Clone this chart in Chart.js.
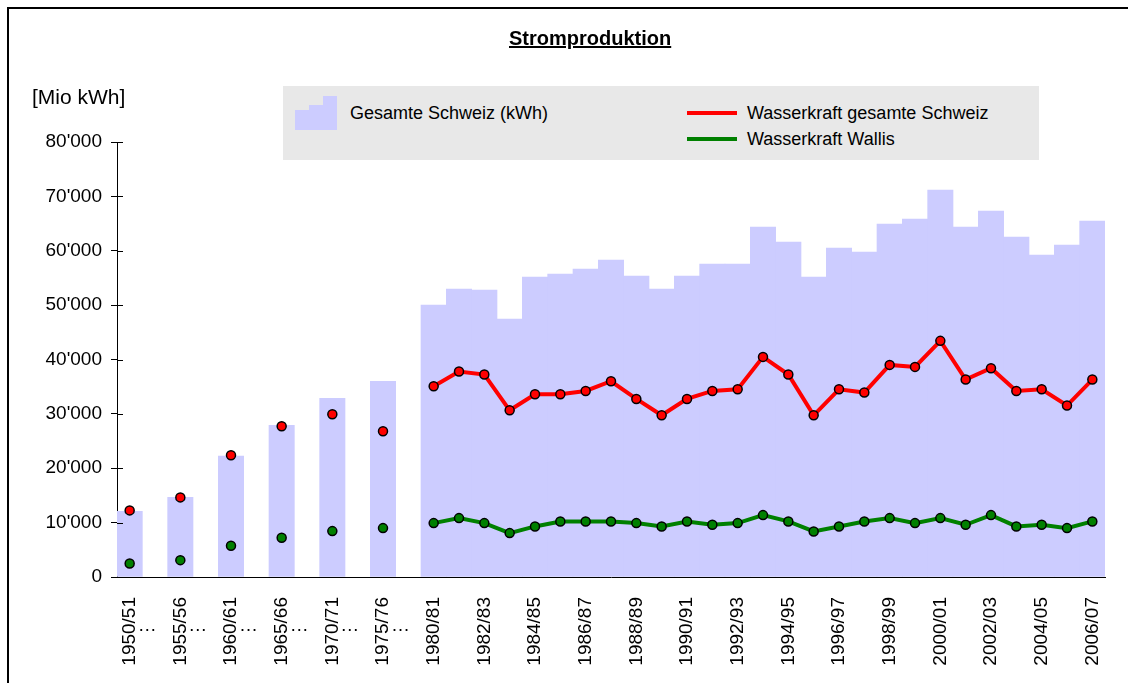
<!DOCTYPE html>
<html>
<head>
<meta charset="utf-8">
<script src="https://cdn.jsdelivr.net/npm/chart.js@4.4.1/dist/chart.umd.min.js"></script>
<style>
  body{ margin:0; background:#fff; font-family:"Liberation Sans", Arial, sans-serif; }
  #wrap{ position:relative; width:1128px; height:683px; overflow:hidden; }
  #frame{ position:absolute; left:7px; top:7px; width:1200px; height:800px; border:2px solid #000; }
  #title{ position:absolute; left:509px; top:27px; font-size:20px; font-weight:bold; text-decoration:underline; }
  #unit{ position:absolute; left:32px; top:85px; font-size:21px; }
  #legend{ position:absolute; left:283px; top:86px; width:756px; height:74px; background:#e8e8e8; }
  .item{ position:absolute; font-size:18px; line-height:20px; }
  .swatch{ position:absolute; height:4px; width:50px; }
  canvas{ position:absolute; left:0; top:0; }
</style>
</head>
<body>
<div id="wrap">
  <div id="frame"></div>
  <canvas id="chart" width="1128" height="683"></canvas>
  <div id="title">Stromproduktion</div>
  <div id="unit">[Mio kWh]</div>
  <div id="legend"></div>
</div>
<script>
// ===============================
// DATA (Mio kWh)
// ===============================
// leere Felder = Luecke zwischen den 5-Jahres-Werten
const periods = [
  "1950/51…","","1955/56…","","1960/61…","","1965/66…","","1970/71…","","1975/76…","",
  "1980/81","1981/82","1982/83","1983/84","1984/85","1985/86","1986/87","1987/88","1988/89",
  "1989/90","1990/91","1991/92","1992/93","1993/94","1994/95","1995/96","1996/97","1997/98",
  "1998/99","1999/00","2000/01","2001/02","2002/03","2003/04","2004/05","2005/06","2006/07"
];

const gesamtSchweiz = [
  12060,null,14640,null,22250,null,27900,null,32870,null,36000,null,
  50000,52950,52760,47420,55160,55710,56630,58290,55340,
  52950,55340,57550,57550,64360,61600,55160,60500,59760,
  64920,65840,71180,64360,67310,62520,59210,61050,65470
];

const wasserSchweiz = [
  12250,null,14640,null,22380,null,27720,null,29930,null,26800,null,
  35080,37790,37240,30660,33610,33610,34220,36000,32750,
  29740,32750,34220,34530,40480,37240,29740,34530,33920,
  39010,38640,43430,36310,38400,34220,34530,31530,36310
];

const wasserWallis = [
  2490,null,3100,null,5740,null,7210,null,8440,null,8990,null,
  9910,10830,9910,8070,9300,10220,10220,10220,9910,
  9300,10220,9610,9910,11380,10220,8380,9300,10220,
  10830,9910,10830,9610,11380,9300,9610,8990,10220
];

const yTicks = [0,10000,20000,30000,40000,50000,60000,70000,80000];

const FONT = "'Liberation Sans', Arial, sans-serif";

function fmt(v){
  return String(v).replace(/\B(?=(\d{3})+(?!\d))/g, "'");
}

// ===============================
// kleine Extras: Kreuz-Ticks + "…"
// ===============================
const extras = {
  id:'extras',
  afterDraw(c){
    const ctx = c.ctx, y = c.scales.y, x = c.scales.x;
    const a = c.chartArea;
    ctx.save();
    ctx.strokeStyle = '#000';
    ctx.lineWidth = 1;
    yTicks.forEach(t=>{
      const py = Math.round(y.getPixelForValue(t)) + 0.5;
      ctx.beginPath();
      ctx.moveTo(a.left, py);
      ctx.lineTo(a.left + 6, py);
      ctx.stroke();
    });
    ctx.fillStyle = '#000';
    ctx.font = '19px ' + FONT;
    ctx.textAlign = 'left';
    periods.forEach((p,i)=>{
      if(p.endsWith('…')){
        const px = x.getPixelForValue(i);
        ctx.fillText('…', px + 8, 631);
      }
    });
    ctx.restore();
  }
};

const ctx = document.getElementById('chart');

const chart = new Chart(ctx,{
  data:{
    labels: periods,
    datasets:[
      {
        type:'line',
        label:'Wasserkraft gesamte Schweiz',
        data: wasserSchweiz,
        borderColor:'#ff0000',
        backgroundColor:'#ff0000',
        borderWidth:4,
        pointRadius:4.5,
        pointBorderColor:'#000',
        pointBorderWidth:1.5,
        spanGaps:false,
        tension:0,
        order:1
      },
      {
        type:'line',
        label:'Wasserkraft Wallis',
        data: wasserWallis,
        borderColor:'#008000',
        backgroundColor:'#008000',
        borderWidth:4,
        pointRadius:4.5,
        pointBorderColor:'#000',
        pointBorderWidth:1.5,
        spanGaps:false,
        tension:0,
        order:2
      },
      {
        type:'bar',
        label:'Gesamte Schweiz (kWh)',
        data: gesamtSchweiz,
        backgroundColor:'#ccccff',
        borderWidth:0,
        categoryPercentage:1,
        barPercentage:1,
        order:3
      }
    ]
  },
  options:{
    responsive:false,
    animation:false,
    layout:{ padding:{ top:142, right:23, left:0, bottom:0 } },
    plugins:{
      legend:{ display:false },
      tooltip:{ enabled:false }
    },
    scales:{
      x:{
        afterFit(s){ s.height = 106; s.paddingLeft = 0; s.paddingRight = 0; },
        grid:{ display:false, drawTicks:false },
        border:{ color:'#000', width:1 },
        ticks:{
          autoSkip:false,
          maxRotation:90,
          minRotation:90,
          padding:20,
          color:'#000',
          font:{ family:FONT, size:19 },
          callback(v, i){
            if(i % 2) return '';
            return this.getLabelForValue(v).replace('…','');
          }
        }
      },
      y:{
        min:0,
        max:80000,
        afterFit(s){ s.width = 117; },
        grid:{ drawOnChartArea:false, tickLength:6, color:'#000' },
        border:{ color:'#000', width:1 },
        ticks:{
          stepSize:10000,
          padding:9,
          color:'#000',
          font:{ family:FONT, size:19 },
          callback: v => fmt(v)
        }
      }
    }
  },
  plugins:[extras]
});

// ===============================
// LEGENDE (wie Excel-Kasten)
// ===============================
function buildLegend(){
  const box = document.getElementById('legend');
  const ds = chart.data.datasets;
  const bar = ds.find(d=>d.type==='bar');
  const lines = ds.filter(d=>d.type==='line');

  // gestuftes Balken-Symbol
  const steps = [14,9,0];
  steps.forEach((s,k)=>{
    const el = document.createElement('div');
    el.style.cssText = 'position:absolute;background:'+bar.backgroundColor+
      ';left:'+ (12 + k*14) +'px;top:'+(10+s)+'px;width:14px;height:'+(34-s)+'px';
    box.appendChild(el);
  });
  const t0 = document.createElement('div');
  t0.className = 'item';
  t0.style.left = '67px'; t0.style.top = '17px';
  t0.textContent = bar.label;
  box.appendChild(t0);

  lines.forEach((d,k)=>{
    const sw = document.createElement('div');
    sw.className = 'swatch';
    sw.style.background = d.borderColor;
    sw.style.left = '404px';
    sw.style.top = (25 + k*26) + 'px';
    box.appendChild(sw);
    const t = document.createElement('div');
    t.className = 'item';
    t.style.left = '464px';
    t.style.top = (17 + k*26) + 'px';
    t.textContent = d.label;
    box.appendChild(t);
  });
}
buildLegend();
</script>
</body>
</html>
